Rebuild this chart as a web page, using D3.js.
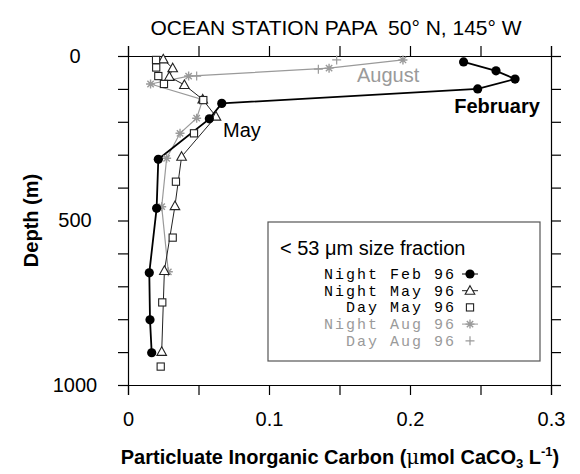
<!DOCTYPE html>
<html>
<head>
<meta charset="utf-8">
<script src="https://cdn.jsdelivr.net/npm/d3@7"></script>
<style>
  html, body { margin: 0; padding: 0; background: #fff; }
  svg { display: block; }
  text { font-family: "Liberation Sans", Arial, Helvetica, sans-serif; }
</style>
</head>
<body>
<svg id="chart" width="580" height="474"></svg>
<script>
// PIC profiles (value in µmol CaCO3 / L, depth in m)
const febNightPic   = [0.238, 0.261, 0.2745, 0.248, 0.0665, 0.0577, 0.0215, 0.0203, 0.0151, 0.0156, 0.0168];
const febNightDepth = [18, 45, 70, 100, 144, 191, 314, 463, 659, 802, 902];

const mayNightPic   = [0.025, 0.0317, 0.0293, 0.040, 0.053, 0.0624, 0.038, 0.0333, 0.0258, 0.0239];
const mayNightDepth = [10, 37, 63, 88, 132, 184, 306, 456, 653, 899];

const mayDayPic   = [0.0199, 0.020, 0.0215, 0.0255, 0.0534, 0.0468, 0.034, 0.0317, 0.0243, 0.0232];
const mayDayDepth = [12, 35, 61, 85, 134, 235, 382, 552, 749, 944];

const augNightPic   = [0.195, 0.1426, 0.043, 0.016, 0.053, 0.0487, 0.0369, 0.0274, 0.0239, 0.0286];
const augNightDepth = [12, 37, 61, 85, 133, 189, 235, 311, 458, 656];

const augDayPic   = [0.148, 0.135, 0.0487];
const augDayDepth = [12, 40, 61];

const xTickValues = [0, 0.05, 0.1, 0.15, 0.2, 0.25, 0.3];
const xTickLabels = ["0", "", "0.1", "", "0.2", "", "0.3"];
const yTickValues = [0, 100, 200, 300, 400, 500, 600, 700, 800, 900, 1000];
const yTickLabels = ["0", "", "", "", "", "500", "", "", "", "", "1000"];

const legendLabels = ["Night Feb 96", "Night May 96", "Day May 96", "Night Aug 96", "Day Aug 96"];

const BLACK = "#000", DARK = "#222", GRAY = "#9a9a9a";

const series = [
  { pic: febNightPic, depth: febNightDepth, marker: "circle",   color: BLACK, line: true,  lw: 1.8 },
  { pic: mayNightPic, depth: mayNightDepth, marker: "triangle", color: DARK,  line: true,  lw: 1 },
  { pic: mayDayPic,   depth: mayDayDepth,   marker: "square",   color: DARK,  line: false, lw: 1 },
  { pic: augNightPic, depth: augNightDepth, marker: "star",     color: GRAY,  line: true,  lw: 1.2 },
  { pic: augDayPic,   depth: augDayDepth,   marker: "plus",     color: GRAY,  line: false, lw: 1 }
];

const svg = d3.select("#chart");
const x = d3.scaleLinear().domain([0, 0.3]).range([128, 551]);
const y = d3.scaleLinear().domain([0, 1000]).range([56, 385]);

// Title
svg.append("text").attr("x", 336).attr("y", 35).attr("text-anchor", "middle")
  .style("font-size", "21px").style("white-space", "pre")
  .text("OCEAN STATION PAPA  50° N, 145° W");

// Frame with outward ticks on all four sides
function styleAxis(g) {
  g.selectAll("path").attr("stroke", "#000").attr("stroke-width", 1.2);
  g.selectAll("line").attr("stroke", "#000").attr("stroke-width", 1.2);
  g.selectAll("text").style("font-size", "20px").attr("fill", "#000")
    .style("font-family", "'Liberation Sans', Arial, sans-serif");
}
svg.append("g").attr("transform", `translate(0,${y(1000)})`)
  .call(d3.axisBottom(x).tickValues(xTickValues).tickSizeOuter(0).tickSize(10).tickPadding(17)
    .tickFormat((d, i) => xTickLabels[i]))
  .call(styleAxis);
svg.append("g").attr("transform", `translate(0,${y(0)})`)
  .call(d3.axisTop(x).tickValues(xTickValues).tickSizeOuter(0).tickSize(10).tickFormat(""))
  .call(styleAxis);
const left = svg.append("g").attr("transform", `translate(${x(0)},0)`)
  .call(d3.axisLeft(y).tickValues(yTickValues).tickSizeOuter(0).tickSize(10).tickPadding(10)
    .tickFormat((d, i) => yTickLabels[i]))
  .call(styleAxis);
left.selectAll("text").attr("text-anchor", "middle").attr("x", -53);
svg.append("g").attr("transform", `translate(${x(0.3)},0)`)
  .call(d3.axisRight(y).tickValues(yTickValues).tickSizeOuter(0).tickSize(10).tickFormat(""))
  .call(styleAxis);

// Axis titles
svg.append("text").attr("x", 340).attr("y", 464).attr("text-anchor", "middle")
  .style("font-size", "20px").style("font-weight", "bold")
  .html('Particluate Inorganic Carbon (<tspan style="font-weight:normal;font-family:\'DejaVu Serif\',serif">μ</tspan>mol CaCO<tspan dy="4" style="font-size:13px">3</tspan><tspan dy="-4"> L</tspan><tspan dy="-8" style="font-size:13px">-1</tspan><tspan dy="8">)</tspan>');
svg.append("text").attr("transform", `translate(38,${y(500)}) rotate(-90)`)
  .attr("text-anchor", "middle").style("font-size", "20px").style("font-weight", "bold")
  .text("Depth (m)");

// Marker shapes
const starPath = (() => {
  const r = 4.5; let p = "";
  for (let k = 0; k < 4; k++) {
    const a = k * Math.PI / 4;
    p += `M${-r * Math.cos(a)},${-r * Math.sin(a)}L${r * Math.cos(a)},${r * Math.sin(a)}`;
  }
  return p;
})();
function drawMarker(g, type, color, cx, cy) {
  const t = `translate(${cx},${cy})`;
  if (type === "circle") {
    g.append("circle").attr("cx", cx).attr("cy", cy).attr("r", 4.6).attr("fill", color);
  } else if (type === "triangle") {
    g.append("path").attr("transform", t).attr("d", "M0,-5L4.8,3.6L-4.8,3.6Z")
      .attr("fill", "#fff").attr("stroke", color).attr("stroke-width", 1.1);
  } else if (type === "square") {
    g.append("rect").attr("x", cx - 3.6).attr("y", cy - 3.6).attr("width", 7.2).attr("height", 7.2)
      .attr("fill", "#fff").attr("stroke", color).attr("stroke-width", 1.1);
  } else if (type === "star") {
    g.append("path").attr("transform", t).attr("d", starPath)
      .attr("stroke", color).attr("stroke-width", 1.4).attr("fill", "none");
  } else if (type === "plus") {
    g.append("path").attr("transform", t).attr("d", "M-4.5,0H4.5M0,-4.5V4.5")
      .attr("stroke", color).attr("stroke-width", 1.2).attr("fill", "none");
  }
}

// Profiles: lines first, then markers (Aug drawn underneath)
const order = [3, 4, 1, 2, 0];
const line = d3.line();
order.forEach(i => {
  const s = series[i];
  const pts = s.pic.map((v, j) => [x(v), y(s.depth[j])]);
  if (s.line) {
    svg.append("path").attr("d", line(pts)).attr("fill", "none")
      .attr("stroke", s.color).attr("stroke-width", s.lw);
  }
});
order.forEach(i => {
  const s = series[i];
  const g = svg.append("g");
  s.pic.forEach((v, j) => drawMarker(g, s.marker, s.color, x(v), y(s.depth[j])));
});

// Season labels
svg.append("text").attr("x", 497).attr("y", 113).attr("text-anchor", "middle")
  .style("font-size", "20px").style("font-weight", "bold").text("February");
svg.append("text").attr("x", 357).attr("y", 82)
  .style("font-size", "20px").attr("fill", GRAY).text("August");
svg.append("text").attr("x", 223).attr("y", 137)
  .style("font-size", "20px").text("May");

// Legend
const lg = svg.append("g");
lg.append("rect").attr("x", 268).attr("y", 222).attr("width", 272).attr("height", 139)
  .attr("fill", "#fff").attr("stroke", "#555").attr("stroke-width", 1.2);
lg.append("text").attr("x", 280).attr("y", 255).style("font-size", "20px").text("< 53 μm size fraction");
series.forEach((s, i) => {
  const yy = 279 + i * 16.7;
  lg.append("text").attr("x", 456).attr("y", yy).attr("text-anchor", "end")
    .style("font-family", "'Liberation Mono', 'Courier New', monospace").style("font-size", "15px")
    .style("letter-spacing", "2px").style("white-space", "pre")
    .attr("fill", s.color === GRAY ? GRAY : "#000").text(legendLabels[i]);
  const my = yy - 5;
  if (s.line) {
    lg.append("line").attr("x1", 462).attr("x2", 478).attr("y1", my).attr("y2", my)
      .attr("stroke", s.color).attr("stroke-width", 1);
  }
  drawMarker(lg, s.marker, s.color, 470, my);
});
</script>
</body>
</html>
